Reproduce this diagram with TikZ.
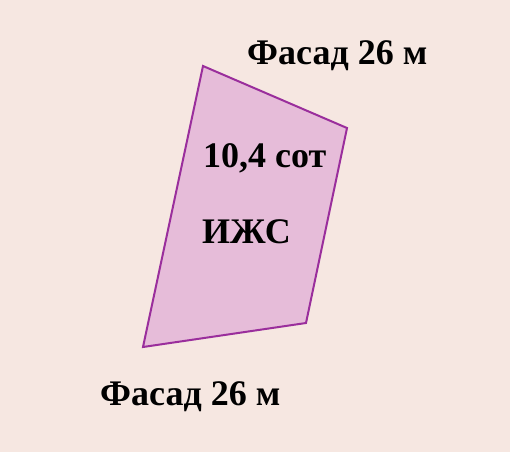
\documentclass[tikz,border=0pt]{standalone}
\usepackage{fontspec}
\setmainfont{Liberation Serif}
\usepackage{tikz}
\usetikzlibrary{positioning}
\definecolor{bgpink}{HTML}{F6E7E1}
\definecolor{plotfill}{HTML}{E6BCD9}
\definecolor{plotline}{HTML}{9A2E9C}
\tikzset{plot edge/.style={draw=plotline,fill=plotfill,line width=2pt,line join=miter},}
\tikzstyle{lbl} = [font=\fontsize{36}{38}\selectfont\bfseries,inner sep=0pt,anchor=base west]

\begin{document}
\begin{tikzpicture}[x=1pt,y=-1pt]
                    \fill[bgpink] (0,0) rectangle (510,452);
                    \useasboundingbox (0,0) rectangle (510,452);
                    \coordinate (nw) at (203,66);
                    \coordinate (ne) at (347,128);
                    \coordinate (se) at (306,323);
                    \coordinate (sw) at (143,347);
                    \path[plot edge] (nw) -- (ne) -- (se) -- (sw) -- cycle;
                    \node[lbl] (top) at (247,64) {Фасад 26 м};
                    \node[lbl] (area) at (203,167) {10,4 сот};
                    \node[lbl] (use) at (202,243) {ИЖС};
                    \node[lbl] (bottom) at (100,405) {Фасад 26 м};
                \end{tikzpicture}
\end{document}
